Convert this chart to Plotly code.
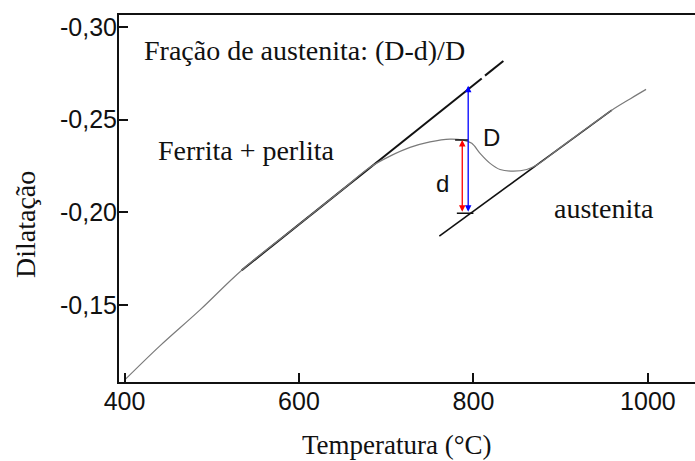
import plotly.graph_objects as go

# ---- data ----
temp_curve = [400, 440.6, 486.6, 534.4, 600, 650, 681.5, 704.4, 727.3, 750.2, 773.2, 788.4,
              798.1, 807.6, 819.1, 830.5, 845.8, 861.1, 872.6, 900, 930, 958.6, 980, 997.9]
dil_curve = [-0.1095, -0.1280, -0.1474, -0.1688, -0.1935, -0.2123, -0.2243, -0.2303, -0.2350,
             -0.2380, -0.2395, -0.2389, -0.2372, -0.2318, -0.2264, -0.2231, -0.2222, -0.2231,
             -0.2255, -0.2351, -0.2454, -0.2551, -0.2613, -0.2663]

ferrite_T = [534.4, 809.5]
ferrite_v = [-0.1688, -0.2722]
ferrite_ext_T = [813.3, 834.3]
ferrite_ext_v = [-0.2737, -0.2816]

austenite_T = [760.9, 958.6]
austenite_v = [-0.1872, -0.2551]

T_D = 794          # position of the D arrow
T_d = 787.2        # position of the d arrow
D_top = -0.2682
d_top = -0.2390
base = -0.1995
d_mark_T = [779, 794]
base_mark_T = [781, 800]

x_tickvals = [400, 600, 800, 1000]
x_ticktext = ["400", "600", "800", "1000"]
y_tickvals = [-0.30, -0.25, -0.20, -0.15]
y_ticktext = ["-0,30", "-0,25", "-0,20", "-0,15"]

SERIF = "Liberation Serif, Times New Roman, serif"
SANS = "Liberation Sans, Arial, sans-serif"

fig = go.Figure()

fig.add_trace(go.Scatter(x=ferrite_T, y=ferrite_v, mode="lines",
                         line=dict(color="#111111", width=2)))
fig.add_trace(go.Scatter(x=ferrite_ext_T, y=ferrite_ext_v, mode="lines",
                         line=dict(color="#111111", width=2)))
fig.add_trace(go.Scatter(x=austenite_T, y=austenite_v, mode="lines",
                         line=dict(color="#111111", width=1.6)))
fig.add_trace(go.Scatter(x=temp_curve, y=dil_curve, mode="lines", line_shape="spline",
                         line=dict(color="#7a7a7a", width=1.2)))
fig.add_trace(go.Scatter(x=d_mark_T, y=[d_top, d_top], mode="lines",
                         line=dict(color="#111111", width=1.5)))
fig.add_trace(go.Scatter(x=base_mark_T, y=[base, base], mode="lines",
                         line=dict(color="#111111", width=1.5)))

# arrows
fig.add_annotation(x=T_D, y=D_top, ax=T_D, ay=base, xref="x", yref="y", axref="x", ayref="y",
                   showarrow=True, arrowside="end+start", arrowhead=2, arrowsize=1,
                   arrowwidth=1.3, arrowcolor="#0000ff", text="")
fig.add_annotation(x=T_d, y=d_top, ax=T_d, ay=base, xref="x", yref="y", axref="x", ayref="y",
                   showarrow=True, arrowside="end+start", arrowhead=2, arrowsize=1,
                   arrowwidth=1.3, arrowcolor="#ff0000", text="")

def txt(s, x, y, font, size, xanchor="left", angle=0):
    fig.add_annotation(text=s, x=x, y=y, xref="paper", yref="paper", showarrow=False,
                       xanchor=xanchor, yanchor="middle", textangle=angle,
                       font=dict(family=font, size=size, color="#111111"))

txt("Fração de austenita: (D-d)/D", 0.0394, 0.9046, SERIF, 28)
txt("Ferrita + perlita", 0.0642, 0.632, SERIF, 28)
txt("austenita", 0.7512, 0.4714, SERIF, 28)
txt("D", 0.6467, 0.6662, SANS, 24, "center")
txt("d", 0.5608, 0.5409, SANS, 24, "center")
txt("Temperatura (°C)", 0.4835, -0.1717, SERIF, 27, "center")
txt("Dilatação", -0.1632, 0.4305, SERIF, 28, "center", -90)

fig.update_layout(
    width=695, height=461,
    margin=dict(l=119, r=0, t=15, b=79),
    paper_bgcolor="white", plot_bgcolor="white",
    showlegend=False,
    xaxis=dict(range=[393.7, 1054], tickvals=x_tickvals, ticktext=x_ticktext,
               ticks="inside", ticklen=9, tickwidth=1.5, tickcolor="#111111",
               showline=True, linecolor="#111111", linewidth=2, mirror=True,
               showgrid=False, zeroline=False, ticklabelstandoff=-4,
               tickfont=dict(family=SANS, size=25, color="#111111")),
    yaxis=dict(range=[-0.1085, -0.3064], tickvals=y_tickvals, ticktext=y_ticktext,
               ticks="inside", ticklen=9, tickwidth=1.5, tickcolor="#111111",
               showline=True, linecolor="#111111", linewidth=2,
               showgrid=False, zeroline=False, ticklabelstandoff=-5,
               tickfont=dict(family=SANS, size=25, color="#111111")),
)

fig.write_html("out.html")
